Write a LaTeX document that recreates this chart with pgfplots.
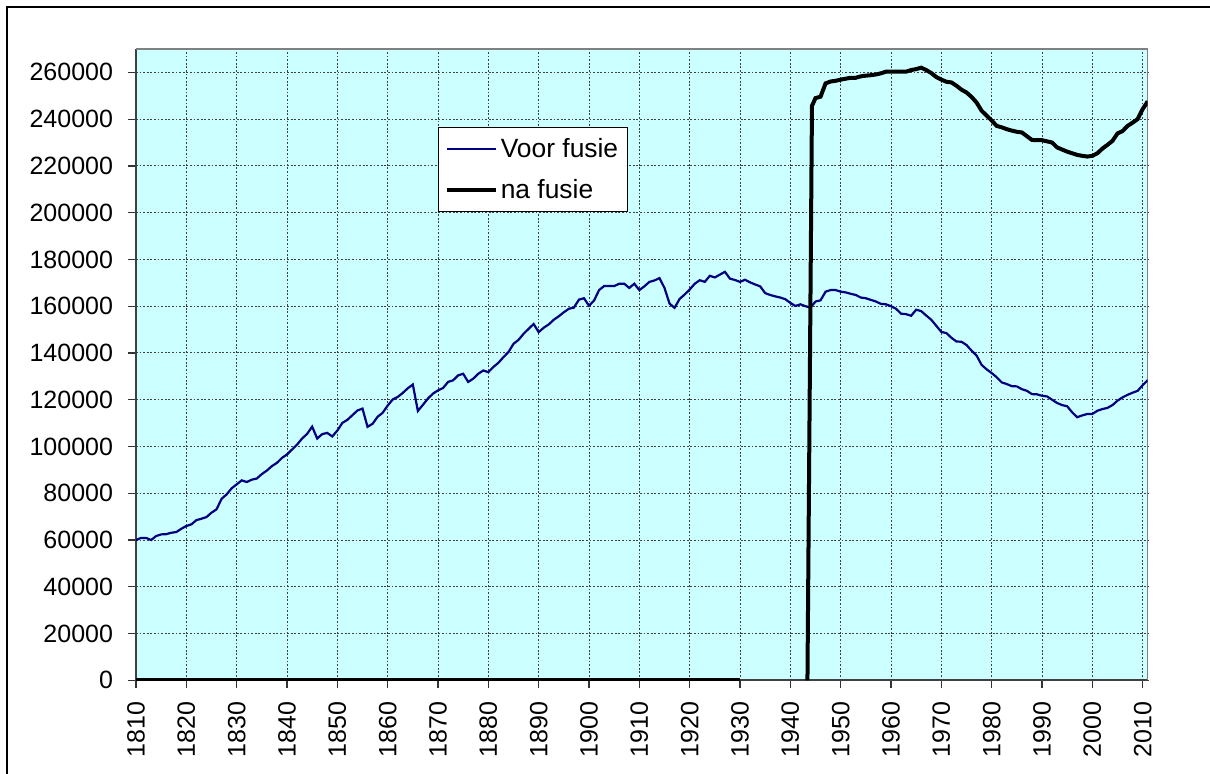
\documentclass[border=0pt]{standalone}
\usepackage{pgfplots}
\pgfplotsset{compat=1.18}
\usepackage{fontspec}
\setmainfont{Liberation Sans}
\definecolor{plotbg}{HTML}{CCFFFF}
\definecolor{voor}{HTML}{000080}
\begin{document}
\begin{tikzpicture}
\useasboundingbox (0,0) rectangle (605pt,-387pt);
\begin{scope}[x=0.5pt,y=-0.5pt]
\draw[black, line width=1pt] (7.3,774) -- (7.3,6.7) -- (1210,6.7);
\coordinate (A) at (136,680.3);
\end{scope}
\begin{axis}[
  at={(A)}, anchor=south west,
  scale only axis, width=505.85pt, height=315.65pt,
  xmin=1810, xmax=2011, ymin=0, ymax=270000,
  xtick={1810,1820,...,2010},
  ytick={0,20000,...,260000},
  scaled y ticks=false, scaled x ticks=false,
  /pgf/number format/assume math mode=true,
  xticklabel style={/pgf/number format/1000 sep={}, rotate=90, anchor=east, inner sep=0pt, font=\fontsize{12.5}{14}\selectfont},
  yticklabel style={/pgf/number format/fixed, /pgf/number format/1000 sep={}, anchor=east, inner sep=0pt, font=\fontsize{12.5}{14}\selectfont},
  xticklabel shift=6.6pt, yticklabel shift=7.3pt,
  axis background/.style={fill=plotbg},
  axis line style={draw=none},
  clip mode=individual,
  tick align=outside, tick pos=left, major tick length=4pt,
  tick style={black!80, line width=0.6pt},
  xmajorgrids, ymajorgrids,
  major grid style={black!75, line width=0.5pt, dash pattern=on 0.9pt off 0.9pt},
  legend style={at={(axis description cs:0.2988,0.876)}, anchor=north west,
    draw=black, line width=0.5pt, fill=white, font=\fontsize{13.2}{15}\selectfont,
    inner xsep=3pt, inner ysep=3.6pt, row sep=6.5pt, nodes={inner sep=1.5pt}},
  legend cell align=left,
  legend image code/.code={\draw[#1] (0pt,0pt) -- (24.5pt,0pt);},
]
\draw[black!75, line width=1pt] (rel axis cs:0,1) -- (rel axis cs:0,0) -- (rel axis cs:1,0);
\draw[gray, line width=0.75pt] (rel axis cs:0,1) -- (rel axis cs:1,1) -- (rel axis cs:1,0);
\addplot[voor, line width=1.1pt] coordinates {
(1810,60000)(1811,60900)(1812,60900)(1813,60000)(1814,61700)(1815,62400)(1816,62500)(1817,63100)(1818,63400)(1819,64800)
(1820,66000)(1821,66700)(1822,68500)(1823,69100)(1824,69800)(1825,71700)(1826,73100)(1827,77600)(1828,79500)(1829,82100)
(1830,83800)(1831,85500)(1832,84800)(1833,85800)(1834,86300)(1835,88200)(1836,89700)(1837,91600)(1838,93000)(1839,95100)
(1840,96600)(1841,98700)(1842,100800)(1843,103400)(1844,105400)(1845,108500)(1846,103400)(1847,105300)(1848,105800)(1849,104300)
(1850,106800)(1851,110100)(1852,111400)(1853,113400)(1854,115400)(1855,116200)(1856,108400)(1857,109700)(1858,112700)(1859,114400)
(1860,117500)(1861,120100)(1862,121200)(1863,122900)(1864,124900)(1865,126500)(1866,115200)(1867,117800)(1868,120500)(1869,122600)
(1870,124000)(1871,125000)(1872,127600)(1873,128300)(1874,130400)(1875,131100)(1876,127600)(1877,129000)(1878,131100)(1879,132500)
(1880,131800)(1881,134000)(1882,135800)(1883,138200)(1884,140400)(1885,143900)(1886,145600)(1887,148200)(1888,150300)(1889,152400)
(1890,148900)(1891,150800)(1892,152200)(1893,154200)(1894,155700)(1895,157400)(1896,158900)(1897,159400)(1898,162800)(1899,163400)
(1900,160200)(1901,162400)(1902,166900)(1903,168600)(1904,168600)(1905,168600)(1906,169600)(1907,169600)(1908,167800)(1909,169600)
(1910,166900)(1911,168500)(1912,170400)(1913,171000)(1914,172000)(1915,167800)(1916,161100)(1917,159300)(1918,163100)(1919,165000)
(1920,167100)(1921,169600)(1922,171100)(1923,170400)(1924,173000)(1925,172300)(1926,173500)(1927,174700)(1928,171800)(1929,171200)
(1930,170400)(1931,171300)(1932,170200)(1933,169300)(1934,168500)(1935,165600)(1936,164800)(1937,164200)(1938,163700)(1939,163000)
(1940,161400)(1941,160100)(1942,160800)(1943,160000)(1944,159400)(1945,162000)(1946,162500)(1947,166200)(1948,166900)(1949,166900)
(1950,166200)(1951,165900)(1952,165300)(1953,164800)(1954,163700)(1955,163400)(1956,162700)(1957,162000)(1958,161000)(1959,160800)
(1960,160000)(1961,158900)(1962,156800)(1963,156600)(1964,155900)(1965,158500)(1966,157900)(1967,156000)(1968,154200)(1969,151600)
(1970,149000)(1971,148500)(1972,146500)(1973,144900)(1974,144800)(1975,143400)(1976,141000)(1977,138900)(1978,134900)(1979,133000)
(1980,131400)(1981,129600)(1982,127400)(1983,126700)(1984,125800)(1985,125700)(1986,124500)(1987,123800)(1988,122400)(1989,122300)
(1990,121700)(1991,121400)(1992,120000)(1993,118600)(1994,117700)(1995,117200)(1996,114600)(1997,112500)(1998,113300)(1999,113900)
(2000,113900)(2001,115300)(2002,116000)(2003,116500)(2004,117700)(2005,119600)(2006,121000)(2007,122100)(2008,123000)(2009,123800)
(2010,126200)(2011,128400)
};
\addlegendentry{Voor fusie}
\addplot[black, line width=2pt] coordinates {
(1943.4,0)(1944.3,245700)(1945,249000)(1946,249600)(1947,255300)(1948,256100)(1949,256400)
(1950,256900)(1951,257300)(1952,257700)(1953,257700)(1954,258300)(1955,258600)(1956,258800)(1957,259100)(1958,259600)(1959,260300)
(1960,260300)(1961,260300)(1962,260300)(1963,260300)(1964,261000)(1965,261400)(1966,262000)(1967,261000)(1968,259700)(1969,258000)
(1970,256900)(1971,256000)(1972,255700)(1973,254300)(1974,252600)(1975,251400)(1976,249500)(1977,247100)(1978,243600)(1979,241500)
(1980,239400)(1981,237100)(1982,236500)(1983,235700)(1984,235100)(1985,234600)(1986,234300)(1987,232700)(1988,231100)(1989,231000)
(1990,231000)(1991,230500)(1992,230000)(1993,227900)(1994,227000)(1995,226100)(1996,225400)(1997,224700)(1998,224300)(1999,224000)
(2000,224300)(2001,225400)(2002,227400)(2003,229000)(2004,230700)(2005,233900)(2006,234900)(2007,237100)(2008,238500)(2009,240000)
(2010,244300)(2011,247600)
};
\addlegendentry{na fusie}
\addplot[black, line width=2pt, forget plot] coordinates {(1810,0)(1930,0)};
\end{axis}
\end{tikzpicture}
\end{document}
